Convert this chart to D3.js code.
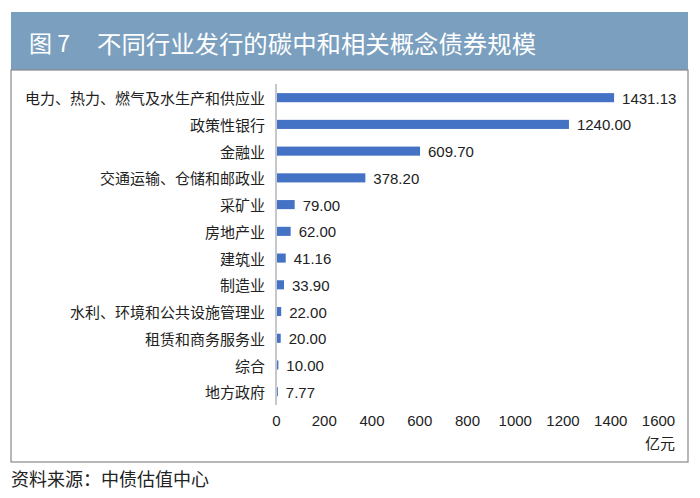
<!DOCTYPE html>
<html><head><meta charset="utf-8">
<script src="https://cdn.jsdelivr.net/npm/d3@7/dist/d3.min.js"></script>
<style>body{margin:0;background:#fff}svg{display:block}</style>
</head><body>
<script>
const categories = ["电力、热力、燃气及水生产和供应业","政策性银行","金融业","交通运输、仓储和邮政业","采矿业","房地产业","建筑业","制造业","水利、环境和公共设施管理业","租赁和商务服务业","综合","地方政府"];
const values = [1431.13,1240.00,609.70,378.20,79.00,62.00,41.16,33.90,22.00,20.00,10.00,7.77];
const valueLabels = ["1431.13","1240.00","609.70","378.20","79.00","62.00","41.16","33.90","22.00","20.00","10.00","7.77"];
const ticks = [0,200,400,600,800,1000,1200,1400,1600];
const titleNum = "图 7";
const title = "不同行业发行的碳中和相关概念债券规模";
const unit = "亿元";
const source = "资料来源：中债估值中心";

const W=700,H=498;
const cjk = "'Noto Sans CJK SC','Noto Sans',sans-serif";
const num = "'Liberation Sans',Arial,sans-serif";
const svg = d3.select("body").append("svg").attr("width",W).attr("height",H);

// header
svg.append("rect").attr("x",11).attr("y",12).attr("width",677).attr("height",58).attr("fill","#7ba0bf");
svg.append("text").attr("x",29).attr("y",42).attr("dominant-baseline","central")
  .attr("fill","#fff").attr("font-family",cjk).attr("font-size",23).text(titleNum);
svg.append("text").attr("x",97).attr("y",42).attr("dominant-baseline","central")
  .attr("fill","#fff").attr("font-family",cjk).attr("font-size",24.4).text(title);
// box
svg.append("rect").attr("x",11).attr("y",70).attr("width",677).attr("height",392)
  .attr("fill","none").attr("stroke","#888").attr("stroke-width",1.2);

const x = d3.scaleLinear().domain([0,1600]).range([276,654]);
const y = d3.scaleBand().domain(categories).range([84.3,405.1]).paddingInner(0.66).paddingOuter(0.33);

svg.append("g").selectAll("rect").data(values).join("rect")
  .attr("x",x(0)).attr("y",(d,i)=>y(categories[i]))
  .attr("width",d=>x(d)-x(0)).attr("height",y.bandwidth()).attr("fill","#4472c4");

// zero axis line
svg.append("line").attr("x1",x(0)).attr("x2",x(0)).attr("y1",84).attr("y2",405)
  .attr("stroke","#c4c8cc").attr("stroke-width",2);

// category labels
svg.append("g").selectAll("text").data(categories).join("text")
  .attr("x",265).attr("y",d=>y(d)+y.bandwidth()/2).attr("text-anchor","end")
  .attr("dominant-baseline","central").attr("font-family",cjk).attr("font-size",15)
  .attr("fill","#222").text(d=>d);

// value labels
svg.append("g").selectAll("text").data(values).join("text")
  .attr("x",(d,i)=>x(d)+8).attr("y",(d,i)=>y(categories[i])+y.bandwidth()/2+0.5)
  .attr("dominant-baseline","central").attr("font-family",num).attr("font-size",15)
  .attr("fill","#222").text((d,i)=>valueLabels[i]);

// x axis tick labels
const axis = d3.axisBottom(x).tickValues(ticks).tickSize(0).tickFormat(d3.format("d"));
const ag = svg.append("g").attr("transform","translate(0,412)").call(axis);
ag.select(".domain").remove();
ag.selectAll("text").attr("font-family",num).attr("font-size",15).attr("fill","#222")
  .attr("dx",(d,i)=>i*0.5);

svg.append("text").attr("x",675).attr("y",442).attr("text-anchor","end").attr("dominant-baseline","central")
  .attr("font-family",cjk).attr("font-size",15).attr("fill","#222").text(unit);

svg.append("text").attr("x",11).attr("y",478).attr("dominant-baseline","central")
  .attr("font-family",cjk).attr("font-size",18).attr("fill","#222").text(source);
</script>
</body></html>
